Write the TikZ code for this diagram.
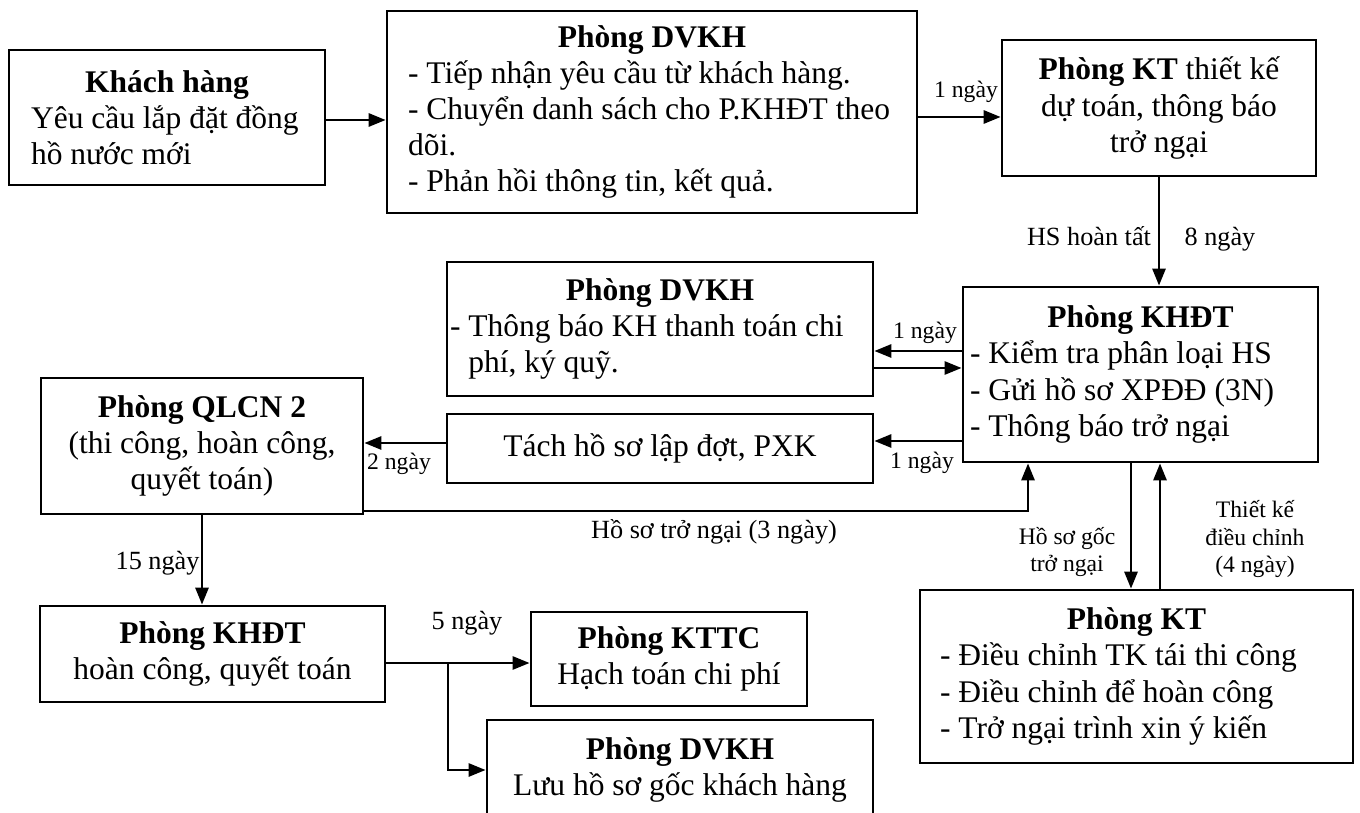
\documentclass[tikz,border=0pt]{standalone}
\usepackage{fontspec}
\setmainfont{Liberation Serif}
\usetikzlibrary{arrows.meta}
\begin{document}
\begin{tikzpicture}[x=0.381pt,y=-0.381pt,
  box/.style={draw, line width=1.05pt, inner sep=0pt, font=\fontsize{12}{13.8}\selectfont},
  arr/.style={line width=1pt, -{Triangle[length=6.5pt,width=5pt]}},
  lbl/.style={font=\fontsize{10}{11.5}\selectfont, inner sep=0pt, text height=7pt, text depth=2.2pt},
  slbl/.style={font=\fontsize{9}{10.3}\selectfont, inner sep=0pt, align=flush center}]
\useasboundingbox (0,0) rectangle (1360,813);
\fill[white] (0,0) rectangle (1360,813);
\clip (0,0) rectangle (1360,813);

% boxes
\node[box, minimum width=120.4pt, minimum height=51.4pt, text width=103.6pt, align=flush left] (khach) at (167,117.5)
  {\makebox[\hsize]{\textbf{Khách hàng}}\\Yêu cầu lắp đặt đồng\\hồ nước mới};
\node[box, minimum width=201.9pt, minimum height=77pt, text width=185.9pt, align=flush left] (dvkh1) at (652,112)
  {\makebox[\hsize]{\textbf{Phòng DVKH}}\\- Tiếp nhận yêu cầu từ khách hàng.\\- Chuyển danh sách cho P.KHĐT theo\\dõi.\\- Phản hồi thông tin, kết quả.};
\node[box, minimum width=119.6pt, minimum height=51.8pt, align=flush center] (kt1) at (1159,108)
  {\textbf{Phòng KT} thiết kế\\dự toán, thông báo\\trở ngại};
\node[box, minimum width=135.3pt, minimum height=66.7pt, text width=129.9pt, align=flush left] (khdt1) at (1140.5,374.5)
  {\makebox[\hsize]{\textbf{Phòng KHĐT}}\\- Kiểm tra phân loại HS\\- Gửi hồ sơ XPĐĐ (3N)\\- Thông báo trở ngại};
\node[box, minimum width=162.3pt, minimum height=51.1pt, text width=160pt, align=flush left] (dvkh2) at (660,329)
  {\makebox[\hsize]{\textbf{Phòng DVKH}}\\- Thông báo KH thanh toán chi\\\phantom{- }phí, ký quỹ.};
\node[box, minimum width=162.3pt, minimum height=26.3pt, align=flush center] (tach) at (660,448.5)
  {Tách hồ sơ lập đợt, PXK};
\node[box, minimum width=122.7pt, minimum height=51.8pt, align=flush center] (qlcn) at (202,446)
  {\textbf{Phòng QLCN 2}\\(thi công, hoàn công,\\quyết toán)};
\node[box, minimum width=131.4pt, minimum height=36.6pt, align=flush center] (khdt2) at (212.5,654)
  {\textbf{Phòng KHĐT}\\hoàn công, quyết toán};
\node[box, minimum width=105.2pt, minimum height=35.8pt, align=flush center] (kttc) at (669,659)
  {\textbf{Phòng KTTC}\\Hạch toán chi phí};
\node[box, minimum width=147.1pt, minimum height=38.1pt, align=flush center] (dvkh3) at (680,770)
  {\textbf{Phòng DVKH}\\Lưu hồ sơ gốc khách hàng};
\node[box, minimum width=165pt, minimum height=65.9pt, text width=149.7pt, align=flush left] (kt2) at (1136.5,676.5)
  {\makebox[\hsize]{\textbf{Phòng KT}}\\- Điều chỉnh TK tái thi công\\- Điều chỉnh để hoàn công\\- Trở ngại trình xin ý kiến};

% labels
\node[slbl, text height=6.3pt, text depth=2pt] (l1) at (966,92) {1 ngày};
\node[lbl] (lhs) at (1089,239) {HS hoàn tất};
\node[lbl] (l8) at (1220,239) {8 ngày};
\node[slbl, text height=6.3pt, text depth=2pt] (l1b) at (925,333) {1 ngày};
\node[slbl, text height=6.3pt, text depth=2pt] (l1c) at (922,463) {1 ngày};
\node[slbl, text height=6.3pt, text depth=2pt] (l2) at (399,464) {2 ngày};
\node[lbl] (ltn) at (714,532) {Hồ sơ trở ngại (3 ngày)};
\node[lbl, anchor=east] (l15) at (200,563) {15 ngày};
\node[lbl] (l5) at (467,623) {5 ngày};
\node[slbl] (lgoc) at (1067,552) {Hồ sơ gốc\\trở ngại};
\node[slbl] (ltk) at (1255,539) {Thiết kế\\điều chỉnh\\(4 ngày)};

% connectors
\draw[arr] (khach.east |- 0,120) -- (dvkh1.west |- 0,120);
\draw[arr] (dvkh1.east |- 0,117) -- (kt1.west |- 0,117);
\draw[arr] (kt1.south) -- (kt1.south |- khdt1.north);
\draw[arr] (khdt1.west |- 0,351) -- (dvkh2.east |- 0,351);
\draw[arr] (dvkh2.east |- 0,368) -- (khdt1.west |- 0,368);
\draw[arr] (khdt1.west |- 0,441) -- (tach.east |- 0,441);
\draw[arr] (tach.west |- 0,443) -- (qlcn.east |- 0,443);
\coordinate (hs) at (1028,511);
\draw[arr] (qlcn.east |- hs) -- (hs) -- (hs |- khdt1.south);
\draw[arr] (qlcn.south) -- (qlcn.south |- khdt2.north);
\draw[arr] (khdt2.east |- 0,663) -- (kttc.west |- 0,663);
\coordinate (br) at (448,663);
\draw[arr] (br) -- (br |- 0,770) -- (dvkh3.west |- 0,770);
\draw[arr] (khdt1.south -| 1131,0) -- (kt2.north -| 1131,0);
\draw[arr] (kt2.north -| 1160,0) -- (khdt1.south -| 1160,0);
\end{tikzpicture}
\end{document}
